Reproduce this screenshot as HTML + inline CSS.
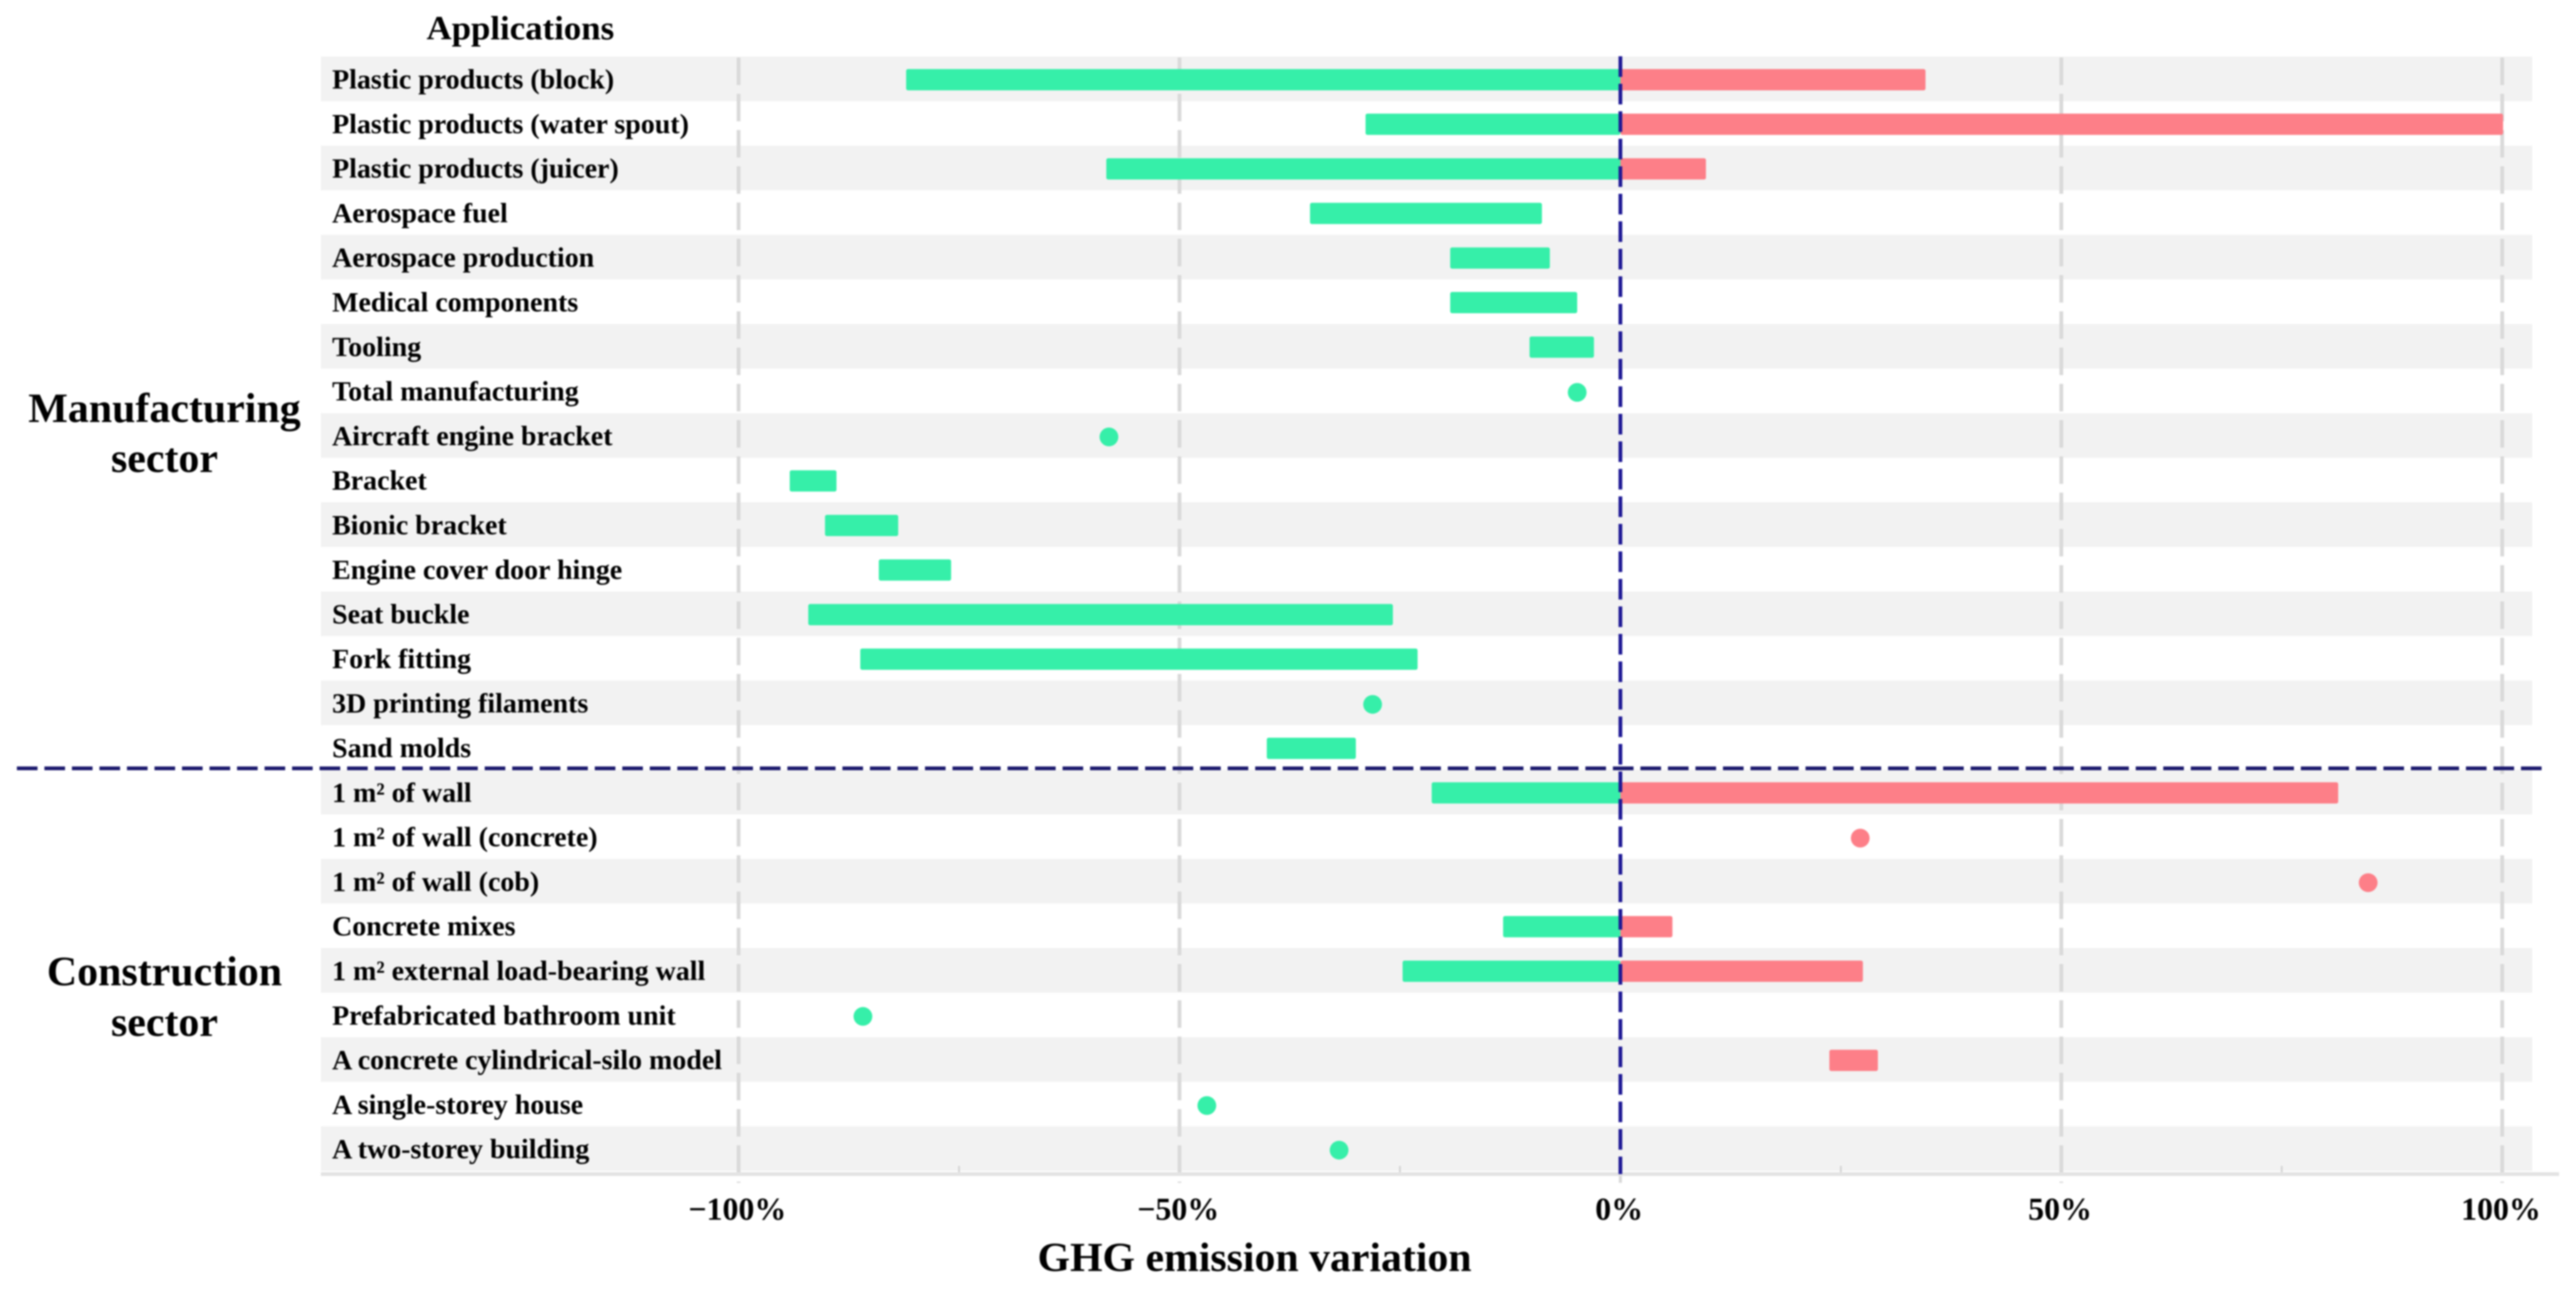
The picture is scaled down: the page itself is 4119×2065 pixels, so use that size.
<!DOCTYPE html>
<html lang="en">
<head>
<meta charset="utf-8">
<title>GHG emission variation by application</title>
<style>
html,body{margin:0;padding:0;background:#fff;width:4119px;height:2065px;overflow:hidden}
svg{display:block;font-family:"Liberation Serif",serif;font-weight:bold;fill:#000;filter:blur(1.2px)}
</style>
</head>
<body>
<svg id="chart" xmlns="http://www.w3.org/2000/svg" width="4119" height="2065" viewBox="0 0 4119 2065">
  <g id="bands"></g>
  <g id="grid"></g>
  <g id="marks"></g>
  <g id="labels"></g>
  <g id="axis"></g>
  <line x1="2591" y1="90" x2="2591" y2="1878" stroke="#1f1a96" stroke-width="6" stroke-dasharray="33 11"/>
  <line x1="27" y1="1229" x2="4064" y2="1229" stroke="#1c1a6e" stroke-width="6" stroke-dasharray="33 11"/>
  <text x="832" y="63" text-anchor="middle" font-size="54" textLength="300" lengthAdjust="spacingAndGlyphs">Applications</text>
  <text text-anchor="middle" font-size="67"><tspan x="263" y="675">Manufacturing</tspan><tspan x="263" y="755">sector</tspan></text>
  <text text-anchor="middle" font-size="67"><tspan x="263" y="1576">Construction</tspan><tspan x="263" y="1657">sector</tspan></text>
  <text x="2006" y="2033" text-anchor="middle" font-size="66" textLength="694" lengthAdjust="spacingAndGlyphs">GHG emission variation</text>
</svg>
<script>
const categories = [
  "Plastic products (block)", "Plastic products (water spout)", "Plastic products (juicer)",
  "Aerospace fuel", "Aerospace production", "Medical components", "Tooling",
  "Total manufacturing", "Aircraft engine bracket", "Bracket", "Bionic bracket",
  "Engine cover door hinge", "Seat buckle", "Fork fitting", "3D printing filaments", "Sand molds",
  "1 m² of wall", "1 m² of wall (concrete)", "1 m² of wall (cob)", "Concrete mixes",
  "1 m² external load-bearing wall", "Prefabricated bathroom unit",
  "A concrete cylindrical-silo model", "A single-storey house", "A two-storey building"
];
const rangeLow = [-81, -28.9, -58.3, -35.2, -19.3, -19.3, -10.3, -4.9, -58, -94.2, -90.2, -84.1, -92.1, -86.2, -28.1, -40.1,
  -21.4, 27.2, 84.8, -13.3, -24.7, -85.9, 23.7, -46.9, -31.9];
const rangeHigh = [34.6, 100.1, 9.7, -8.9, -8, -4.9, -3, -4.9, -58, -88.9, -81.9, -75.9, -25.8, -23, -28.1, -30,
  81.4, 27.2, 84.8, 5.9, 27.5, -85.9, 29.2, -46.9, -31.9];
const tickValues = [-100, -50, 0, 50, 100];
const tickLabels = ["−100%", "−50%", "0%", "50%", "100%"];
const minorTickValues = [-75, -25, 25, 75];

const NS = "http://www.w3.org/2000/svg";
const x = v => 2591 + v * 14.1;
const rowTop = i => 90.5 + i * 71.3;
const rowMid = i => rowTop(i) + 37;
const GREEN = "#36efa9", RED = "#fd7f88";
function make(parent, tag, attrs) {
  const el = document.createElementNS(NS, tag);
  for (const k in attrs) el.setAttribute(k, attrs[k]);
  document.getElementById(parent).appendChild(el);
  return el;
}

categories.forEach((name, i) => {
  if (i % 2 === 0) {
    const band = make("bands", "rect", {x: 513, y: rowTop(i), width: 3536, height: 71.3, fill: "#f2f2f2"});
    
    
  }
  const label = make("labels", "text", {x: 531, y: rowMid(i) + 14, "font-size": 44.7});
  
  
  label.textContent = name;

  const lo = rangeLow[i], hi = rangeHigh[i];
  if (lo === hi) {
    const dot = make("marks", "circle", {cx: x(lo), cy: rowMid(i) + 1, r: 15, fill: lo < 0 ? GREEN : RED});
    
    
  } else {
    if (lo < 0) {
      const neg = make("marks", "rect", {x: x(lo), y: rowMid(i) - 17, width: x(Math.min(hi, 0)) - x(lo), height: 34, rx: 3, fill: GREEN});
      
      
    }
    if (hi > 0) {
      const pos = make("marks", "rect", {x: x(Math.max(lo, 0)), y: rowMid(i) - 17, width: x(hi) - x(Math.max(lo, 0)), height: 34, rx: 3, fill: RED});
      
      
    }
  }
});

tickValues.forEach((v, i) => {
  if (v !== 0) {
    const g = make("grid", "line", {x1: x(v), y1: 92, x2: x(v), y2: 1892, stroke: "#d9d9d9", "stroke-width": 6, "stroke-dasharray": "44 14"});
    
    
  } else {
    const t0 = make("axis", "line", {x1: x(v), y1: 1878, x2: x(v), y2: 1892, stroke: "#d9d9d9", "stroke-width": 5});
    
    
  }
  const t = make("axis", "text", {x: x(v) - 2, y: 1951, "text-anchor": "middle", "font-size": 51});
  
  
  t.textContent = tickLabels[i];
});
minorTickValues.forEach(v => {
  const m = make("axis", "line", {x1: x(v), y1: 1865, x2: x(v), y2: 1880, stroke: "#d4d4d4", "stroke-width": 3});
  
  
});
const axisLine = make("axis", "line", {x1: 513, y1: 1878, x2: 4092, y2: 1878, stroke: "#e3e3e3", "stroke-width": 6});


</script>
</body>
</html>
